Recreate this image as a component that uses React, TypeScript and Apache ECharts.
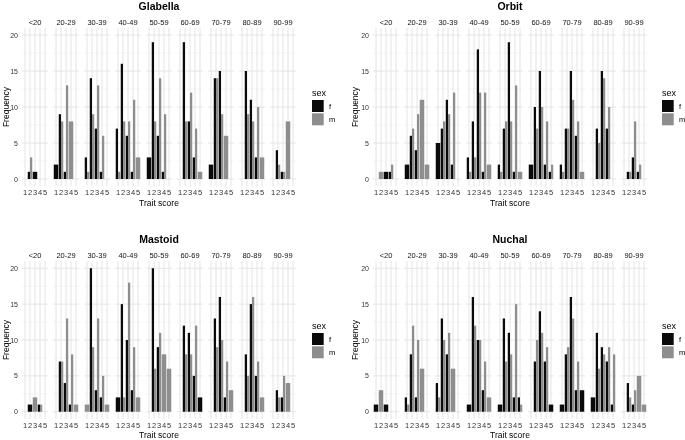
import React, { useEffect, useRef } from "react";
import * as echarts from "echarts";

// ---------- data ----------
const ageGroups = ["<20", "20-29", "30-39", "40-49", "50-59", "60-69", "70-79", "80-89", "90-99"];
const traitScores = [1, 2, 3, 4, 5];
const traits = ["Glabella", "Orbit", "Mastoid", "Nuchal"];
const sexes = ["f", "m"];
const yTicks = [0, 5, 10, 15, 20];
const yMinorBreaks = [2.5, 7.5, 12.5, 17.5];

type Row = (number | null)[];
// one row per age group, one value per trait score 1..5 (null = no individuals)
const glabellaF: Row[] = [
  [null, 1, 1, null, null],
  [2, 9, 1, null, null],
  [3, 14, 7, 1, null],
  [7, 16, 6, 1, null],
  [3, 19, 6, 1, null],
  [null, 19, 8, 3, null],
  [2, 14, 15, null, null],
  [null, 15, 11, 3, null],
  [null, 4, 1, null, null],
];
const glabellaM: Row[] = [
  [null, 3, null, null, null],
  [null, 8, 13, 8, null],
  [1, 9, 13, 6, null],
  [1, 8, 8, 11, 3],
  [null, 8, 14, 9, null],
  [null, 8, 12, 7, 1],
  [null, 14, 9, 6, null],
  [null, 9, 8, 10, 3],
  [null, 2, 1, 8, null],
];
const orbitF: Row[] = [
  [null, null, 1, 1, null],
  [2, 6, 4, null, null],
  [5, 7, 11, 2, null],
  [3, 8, 18, 1, null],
  [2, 7, 19, 1, null],
  [2, 10, 15, 2, 1],
  [2, 7, 15, 6, null],
  [null, 7, 15, 7, null],
  [null, 1, 3, 1, null],
];
const orbitM: Row[] = [
  [null, 1, null, 2, null],
  [null, 7, 9, 11, 2],
  [null, 8, 9, 12, null],
  [1, 3, 12, 12, 2],
  [1, 8, 8, 13, 1],
  [null, 7, 10, 8, 2],
  [1, 7, 11, 8, 1],
  [null, 5, 14, 10, null],
  [null, 1, 8, 2, null],
];
const mastoidF: Row[] = [
  [null, 1, null, 1, null],
  [null, 7, 4, 1, null],
  [null, 20, 3, 2, null],
  [2, 15, 10, 3, null],
  [null, 20, 9, null, null],
  [null, 12, 11, 5, 2],
  [null, 13, 16, 2, null],
  [null, 8, 15, 5, null],
  [null, 3, 2, null, null],
];
const mastoidM: Row[] = [
  [null, null, 2, 1, null],
  [null, 7, 13, 8, 1],
  [1, 9, 13, 5, 1],
  [null, 2, 18, 9, 2],
  [null, 6, 11, 8, 6],
  [null, 8, 8, 12, null],
  [null, 9, 10, 7, 3],
  [null, 5, 16, 7, 2],
  [null, 2, 5, 4, null],
];
const nuchalF: Row[] = [
  [1, null, 1, null, null],
  [2, 8, 2, null, null],
  [4, 13, 8, null, null],
  [1, 16, 10, 3, null],
  [1, 13, 11, 2, 2],
  [null, 7, 14, 7, 1],
  [1, 8, 16, 3, 3],
  [2, 11, 9, 7, 1],
  [null, 4, 1, null, null],
];
const nuchalM: Row[] = [
  [null, 3, null, null, null],
  [1, 12, 10, 6, null],
  [2, 10, 11, 6, null],
  [null, 12, 10, 7, 2],
  [null, 7, 8, 15, 1],
  [null, 10, 11, 9, null],
  [null, 9, 13, 7, null],
  [null, 6, 8, 9, 8],
  [null, 2, 3, 5, 1],
];

const traitData: [Row[], Row[]][] = [
  [glabellaF, glabellaM],
  [orbitF, orbitM],
  [mastoidF, mastoidM],
  [nuchalF, nuchalM],
];

// ---------- style / layout ----------
const FONT = '"Liberation Sans", Arial, Helvetica, sans-serif';
const COLORS = ["#0a0a0a", "#8e8e8e"];
const FACET_W = 26;
const FACET_PITCH = 31;
const panels = [
  { left: 22, top: 27.8, height: 158.4, titleY: 5.5, stripY: 22.5, xTitleY: 203, yTitleX: 5.5, legendX: 312, legendY: 93 },
  { left: 373, top: 27.8, height: 158.4, titleY: 5.5, stripY: 22.5, xTitleY: 203, yTitleX: 355, legendX: 662, legendY: 93 },
  { left: 22, top: 261.1, height: 157.8, titleY: 238.5, stripY: 255, xTitleY: 434.5, yTitleX: 5.5, legendX: 312, legendY: 326 },
  { left: 373, top: 261.1, height: 157.8, titleY: 238.5, stripY: 255, xTitleY: 434.5, yTitleX: 355, legendX: 662, legendY: 326 },
];

function buildBars(fRow: Row, mRow: Row) {
  const items: number[][] = [];
  traitScores.forEach((s, k) => {
    const f = fRow[k];
    const m = mRow[k];
    if (f != null && m != null) {
      items.push([s - 0.225, f, 0, 0.45]);
      items.push([s + 0.225, m, 1, 0.45]);
    } else if (f != null) {
      items.push([s, f, 0, 0.9]);
    } else if (m != null) {
      items.push([s, m, 1, 0.9]);
    }
  });
  return items;
}

function gridRender(params: any, api: any) {
  const cs = params.coordSys;
  const children: any[] = [];
  yMinorBreaks.forEach((b) => {
    const p = api.coord([1, b]);
    children.push({
      type: "line",
      shape: { x1: cs.x, y1: p[1], x2: cs.x + cs.width, y2: p[1] },
      style: { stroke: "#eeeeee", lineWidth: 0.6 },
    });
  });
  yTicks.forEach((b) => {
    const p = api.coord([1, b]);
    children.push({
      type: "line",
      shape: { x1: cs.x, y1: p[1], x2: cs.x + cs.width, y2: p[1] },
      style: { stroke: "#e4e4e4", lineWidth: 1 },
    });
  });
  traitScores.forEach((s) => {
    const p = api.coord([s, 0]);
    children.push({
      type: "line",
      shape: { x1: p[0], y1: cs.y, x2: p[0], y2: cs.y + cs.height },
      style: { stroke: "#e4e4e4", lineWidth: 1 },
    });
  });
  return { type: "group", children };
}

function barRender(params: any, api: any) {
  const x = api.value(0);
  const v = api.value(1);
  const sex = api.value(2);
  const wu = api.value(3);
  const top = api.coord([x, v]);
  const bot = api.coord([x, 0]);
  const w = api.size([wu, 0])[0];
  return {
    type: "rect",
    shape: { x: top[0] - w / 2, y: top[1], width: w, height: bot[1] - top[1] },
    style: { fill: COLORS[sex] },
  };
}

function textStyle(text: string, size: number, fill: string, align: string, weight = "normal") {
  return {
    text,
    fontSize: size,
    fontWeight: weight,
    fontFamily: FONT,
    fill,
    align,
    verticalAlign: "middle",
    textAlign: align,
    textVerticalAlign: "middle",
  };
}

function buildOption() {
  const grid: any[] = [];
  const xAxis: any[] = [];
  const yAxis: any[] = [];
  const series: any[] = [];
  const graphic: any[] = [];

  panels.forEach((p, pi) => {
    const [fRows, mRows] = traitData[pi];
    ageGroups.forEach((age, ai) => {
      const idx = pi * ageGroups.length + ai;
      const left = p.left + ai * FACET_PITCH;
      grid.push({ left, top: p.top, width: FACET_W, height: p.height, containLabel: false, outerBoundsMode: "none" });
      xAxis.push({
        gridIndex: idx,
        type: "value",
        min: 0.4,
        max: 5.6,
        interval: 0.2,
        axisLine: { show: false },
        axisTick: { show: false },
        splitLine: { show: false },
        axisLabel: {
          fontSize: 7.5,
          fontFamily: FONT,
          color: "#333333",
          margin: 2.5,
          formatter: (v: number) => (Math.abs(v - Math.round(v)) < 1e-6 && v >= 1 && v <= 5 ? String(Math.round(v)) : ""),
        },
      });
      yAxis.push({
        gridIndex: idx,
        type: "value",
        min: -1,
        max: 21,
        interval: 1,
        axisLine: { show: false },
        axisTick: { show: false },
        splitLine: { show: false },
        axisLabel: {
          show: ai === 0,
          fontSize: 7,
          fontFamily: FONT,
          color: "#333333",
          margin: 4,
          formatter: (v: number) => (yTicks.indexOf(v) >= 0 ? String(v) : ""),
        },
      });
      series.push({
        type: "custom",
        xAxisIndex: idx,
        yAxisIndex: idx,
        silent: true,
        z: 1,
        data: [[1, 0]],
        renderItem: gridRender,
      });
      series.push({
        type: "custom",
        xAxisIndex: idx,
        yAxisIndex: idx,
        silent: true,
        z: 2,
        encode: { x: 0, y: 1 },
        data: buildBars(fRows[ai], mRows[ai]),
        renderItem: barRender,
      });
      graphic.push({
        type: "text",
        x: left + FACET_W / 2,
        y: p.stripY,
        silent: true,
        style: textStyle(age, 7.5, "#111111", "center"),
      });
    });

    const panelsLeft = p.left;
    const panelsRight = p.left + (ageGroups.length - 1) * FACET_PITCH + FACET_W;
    const cx = (panelsLeft + panelsRight) / 2;
    graphic.push({ type: "text", x: cx, y: p.titleY, silent: true, style: textStyle(traits[pi], 10.5, "#000", "center", "bold") });
    graphic.push({ type: "text", x: cx, y: p.xTitleY, silent: true, style: textStyle("Trait score", 8.5, "#000", "center") });
    graphic.push({
      type: "text",
      x: p.yTitleX,
      y: p.top + p.height / 2,
      rotation: Math.PI / 2,
      silent: true,
      style: textStyle("Frequency", 8.5, "#000", "center"),
    });
    // legend
    graphic.push({ type: "text", x: p.legendX, y: p.legendY, silent: true, style: textStyle("sex", 9, "#000", "left") });
    sexes.forEach((s, si) => {
      const ky = p.legendY + 7 + si * 13.3;
      graphic.push({
        type: "rect",
        silent: true,
        shape: { x: p.legendX, y: ky, width: 11.7, height: 12 },
        style: { fill: COLORS[si] },
      });
      graphic.push({ type: "text", x: p.legendX + 17, y: ky + 6, silent: true, style: textStyle(s, 7.5, "#000", "left") });
    });
  });

  return { animation: false, backgroundColor: "#ffffff", grid, xAxis, yAxis, series, graphic };
}

export default function App() {
  const ref = useRef<HTMLDivElement>(null);
  useEffect(() => {
    document.body.style.margin = "0";
    if (!ref.current) return;
    const chart = echarts.init(ref.current, undefined, { renderer: "svg" });
    chart.setOption(buildOption() as any);
    return () => chart.dispose();
  }, []);
  return <div ref={ref} style={{ width: 685, height: 440, filter: "grayscale(1)" }} />;
}
